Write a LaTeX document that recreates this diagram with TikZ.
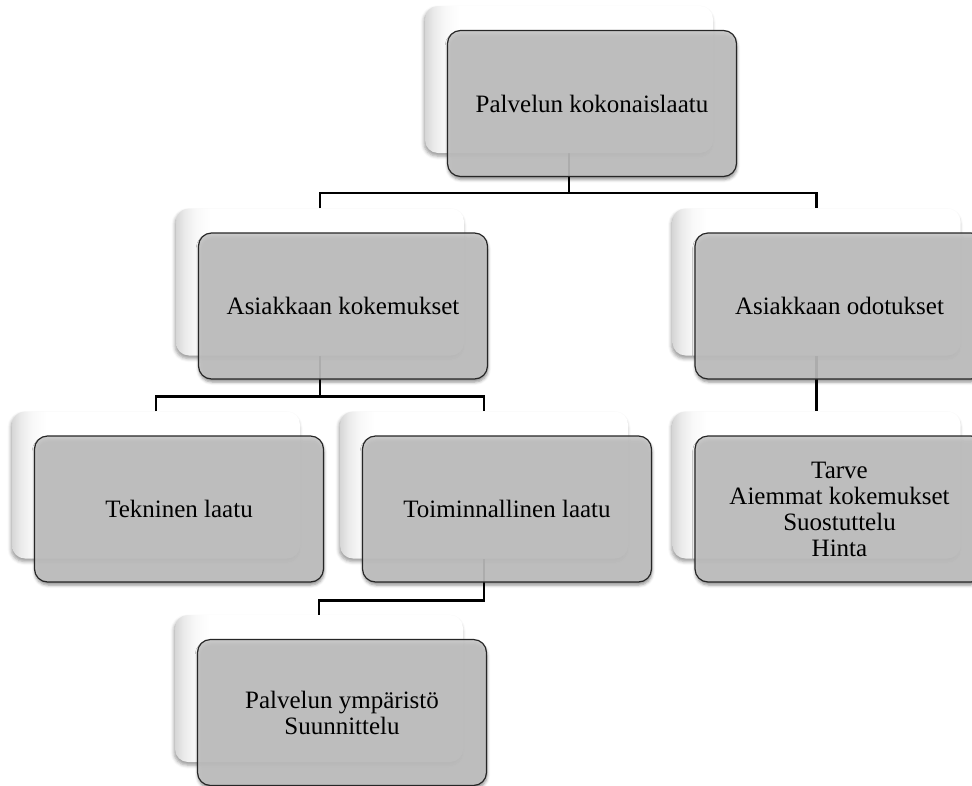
\documentclass[tikz,border=0pt]{standalone}
\usepackage{fontspec}
\setmainfont{Liberation Serif}
\usetikzlibrary{positioning, calc, backgrounds, shadows.blur}

\definecolor{boxgray}{RGB}{196,196,196}
% white card behind, soft grey strip on its left edge
\pgfdeclarehorizontalshading{backshade}{100bp}{color(0bp)=(gray!32); color(25bp)=(gray!32); color(26.5bp)=(gray!16); color(28.5bp)=(gray!5); color(31bp)=(white); color(100bp)=(white)}

\tikzset{
  backbox/.style={rounded corners=13pt, minimum width=288pt, minimum height=147pt,
    shade, shading=backshade,
    blur shadow={shadow xshift=-1pt, shadow yshift=-3pt, shadow opacity=40, shadow blur radius=3.5pt}},
  frontbox/.style={rounded corners=13pt, minimum width=289pt, minimum height=146pt,
    draw=black!85, line width=1.2pt, fill=boxgray, fill opacity=0.88, text opacity=1,
    align=center, font=\fontsize{25pt}{26pt}\selectfont,
    blur shadow={shadow xshift=0.5pt, shadow yshift=-3pt, shadow opacity=50, shadow blur radius=3pt}},
  conn/.style={line width=2.5pt}
}

\begin{document}
\begin{tikzpicture}[x=1pt, y=-1pt]
  \path[use as bounding box, clip] (0,0) rectangle (972,785);
  % back card and front card of each box
  \foreach \x/\y/\name/\txt in {
    569/79.5/top/{Palvelun kokonaislaatu},
    320/282/kok/{Asiakkaan kokemukset},
    816.5/282/odo/{Asiakkaan odotukset},
    156/485/tek/{Tekninen laatu},
    484/485/toi/{Toiminnallinen laatu},
    816.5/485/tarve/{Tarve\\Aiemmat kokemukset\\Suostuttelu\\Hinta},
    319/688.5/ymp/{Palvelun ympäristö\\Suunnittelu}} {
    \node[backbox] (\name-b) at (\x,\y) {};
    \node[frontbox] (\name) at (\x+23,\y+24) {\txt};
  }
  % connectors
  \begin{scope}[on background layer]
    \coordinate (j1) at ($(top-b.south)+(0,40)$);
    \coordinate (j2) at ($(kok-b.south)+(0,41)$);
    \coordinate (j3) at ($(toi-b.south)+(0,42)$);
    \draw[conn] (top-b.south) -- (j1);
    \draw[conn] (kok-b.north) |- (j1) -| (odo-b.north);
    \draw[conn] (kok-b.south) -- (j2);
    \draw[conn] (tek-b.north) |- (j2) -| (toi-b.north);
    \draw[conn] (odo-b.south) -- (tarve-b.north);
    \draw[conn] (toi-b.south) -- (j3) -| (ymp-b.north);
  \end{scope}
\end{tikzpicture}
\end{document}
